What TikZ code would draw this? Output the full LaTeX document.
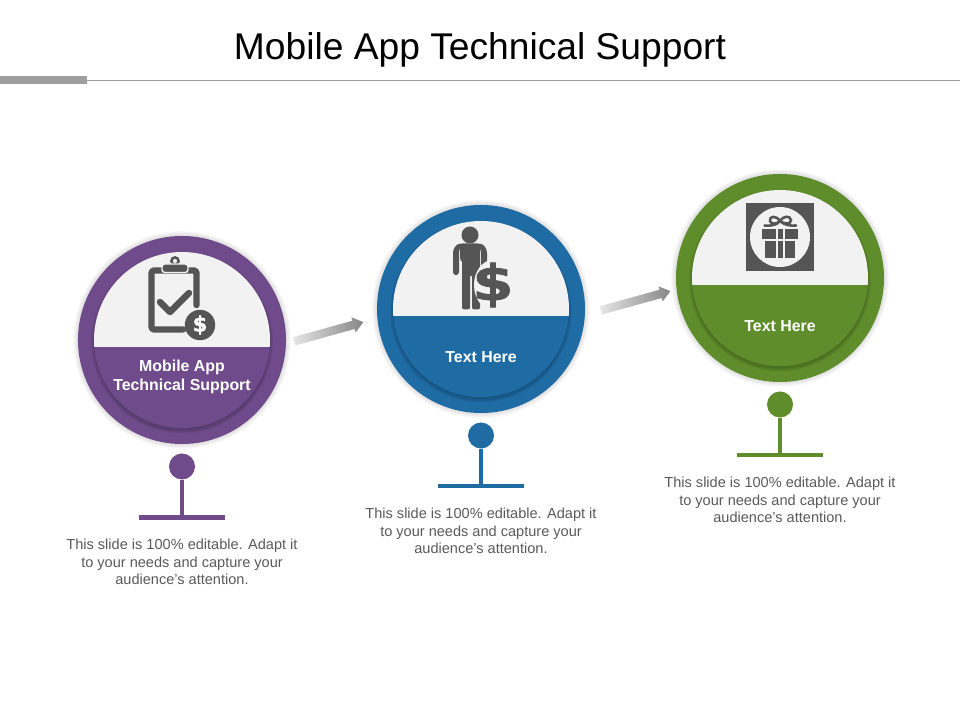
\documentclass[tikz,border=0pt]{standalone}
\usepackage{fontspec}
\setmainfont{Liberation Sans}
\newfontfamily\iconfont[BoldFeatures={FakeBold=1.6}]{DejaVu Sans}
\usetikzlibrary{shapes.arrows,shapes.geometric}
\definecolor{purplering}{HTML}{6F4B8B}
\definecolor{bluering}{HTML}{1F6CA5}
\definecolor{greenring}{HTML}{5F8D2B}
\definecolor{icongray}{HTML}{555555}
\definecolor{panelgray}{HTML}{F2F2F2}
\definecolor{notegray}{HTML}{595959}
\tikzset{
  titletext/.style={inner sep=0pt,font=\fontsize{26.45}{30}\selectfont},
  notetext/.style={inner sep=0pt,align=center,text=notegray,font=\fontsize{10.35}{12.6}\selectfont},
  bandtext/.style={inner sep=0pt,align=center,text=white,font=\fontsize{11.3}{13.6}\selectfont\bfseries},
  pinhead/.style={circle,inner sep=0pt,minimum size=0.65cm},
  pinbar/.style={inner sep=0pt,minimum width=2.125cm,minimum height=0.1cm},
  flowarrow/.style={single arrow,inner xsep=0pt,inner ysep=0.1cm,minimum height=1.8cm,
    single arrow head extend=0.09cm,single arrow head indent=0pt,single arrow tip angle=75,
    left color=gray!20,right color=gray!95,draw=none,sloped,midway},
  iconline/.style={draw=icongray,line width=4.6pt,line cap=round,line join=round}
}
\begin{document}
\begin{tikzpicture}[x=0.025cm,y=-0.025cm]
  \useasboundingbox (0,0) rectangle (960,720);
  % title and rule
  \node[titletext] (title) at (480,50) {Mobile App Technical Support};
  \fill[gray!75] (0,76) rectangle (87,84);
  \draw[gray!75,line width=0.7pt] (87,80.5) -- (960,80.5);
  % the three stages
  \foreach \n/\cx/\cy/\col/\lab/\laby in {
      a/182/340/purplering/{Mobile App\\Technical Support}/37,
      b/481/309/bluering/{Text Here}/48,
      c/780/278/greenring/{Text Here}/48} {
    \foreach \r in {109,108,...,105}
      \fill[black,opacity=0.025] (\cx,\cy) circle (\r);
    \node[circle,fill=\col,inner sep=0pt,minimum size=5.2cm] (ring\n) at (\cx,\cy) {};
    \foreach \r in {91,90,89,88}
      \fill[black,opacity=0.05] (\cx,\cy+2.5) circle (\r);
    \begin{scope}
      \clip (\cx,\cy) circle (88);
      \fill[panelgray] (\cx-90,\cy-90) rectangle (\cx+90,\cy+7);
      \fill[\col] (\cx-90,\cy+7) rectangle (\cx+90,\cy+90);
    \end{scope}
    \node[bandtext] (label\n) at (\cx,\cy+\laby) {\lab};
    \node[pinhead,fill=\col] (pin\n) at (\cx,\cy+126.5) {};
    \node[pinbar,fill=\col] (bar\n) at (\cx,\cy+177.5) {};
    \draw[\col,line width=2.2pt] (pin\n.south) -- (bar\n.north);
    \node[notetext] (note\n) at (\cx,\cy+222) {This slide is 100\% editable. Adapt it\\to your needs and capture your\\audience's attention.};
  }
  % arrows between stages
  \coordinate (arrowa1) at (290,342.5);
  \coordinate (arrowa2) at (362,322.5);
  \coordinate (arrowb1) at (597,311.5);
  \coordinate (arrowb2) at (669,291.5);
  \path (arrowa1) -- (arrowa2) node[flowarrow] (flowa) {};
  \path (arrowb1) -- (arrowb2) node[flowarrow] (flowb) {};
  % clipboard icon
  \draw[iconline,rounded corners=2pt] (196.5,305) -- (196.5,270.5) -- (151.5,270.5) -- (151.5,329.5) -- (183,329.5);
  \draw[icongray,line width=1.8pt] (175,261) circle (3.6);
  \draw[fill=icongray,draw=panelgray,line width=1pt,rounded corners=2pt] (162,264) rectangle (188,272.5);
  \draw[iconline] (160,302) -- (170,312) -- (189,293);
  \node[circle,fill=icongray,inner sep=0pt,minimum size=0.76cm] (coinicon) at (200,325) {};
  \node[inner sep=0pt,text=white,font=\iconfont\fontsize{15}{15}\selectfont\bfseries] (cointext) at (200,325) {\$};
  % person icon
  \fill[icongray] (470,235) circle (8.5);
  \fill[icongray,rounded corners=1.5pt] (460,243.5) -- (480,243.5) -- (480,309.5) -- (472,309.5) -- (472,275)
    -- (470,275) -- (470,309.5) -- (462,309.5) -- (462,260) -- (460,260) -- cycle;
  \fill[icongray,rounded corners=2pt] (453,275) -- (453,250) -- (457,244) -- (463,243.5) -- (459,250) -- (459,275) -- cycle;
  \fill[icongray,rounded corners=2pt] (487,275) -- (487,250) -- (483,244) -- (477,243.5) -- (481,250) -- (481,275) -- cycle;
  \node[ellipse,fill=panelgray,inner sep=0pt,minimum width=0.95cm,minimum height=1.25cm] (halo) at (493,285) {};
  \node[inner sep=0pt,xscale=1.2,text=icongray,font=\iconfont\fontsize{35}{35}\selectfont\bfseries] (persondollar) at (493,285) {\$};
  % gift icon
  \fill[icongray] (746,203) rectangle (814,271);
  \fill[panelgray] (780,237) circle (30);
  \fill[icongray] (762,229) rectangle (798,239.5);
  \fill[icongray] (765,241) rectangle (795,258);
  \fill[panelgray] (776,229) rectangle (778,258);
  \fill[panelgray] (783,229) rectangle (785,258);
  \draw[icongray,line width=1.8pt,line cap=round] (764.5,225.5) .. controls (772,226) and (777,225) .. (780,221)
    .. controls (776,215) and (769,216) .. (770,221) .. controls (771,225) and (777,224) .. (780,221)
    .. controls (784,224) and (791,225) .. (791,220) .. controls (790,215) and (783,216) .. (780,221)
    .. controls (784,225) and (790,226) .. (796,225.5);
\end{tikzpicture}
\end{document}
